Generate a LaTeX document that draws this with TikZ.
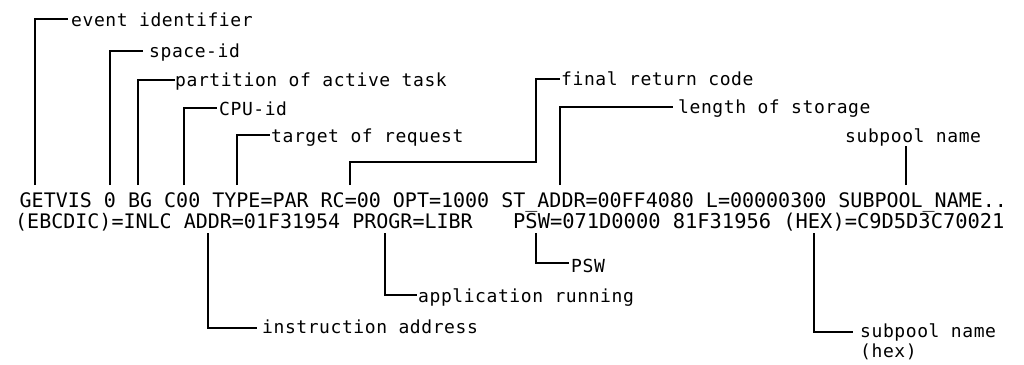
\documentclass[tikz,border=0pt]{standalone}
\usepackage{fontspec}
\newfontfamily\codefont{DejaVu Sans Mono}
\newfontfamily\lblfont[LetterSpace=3.2]{DejaVu Sans Mono}
\begin{document}
\begin{tikzpicture}[x=1pt,y=-1pt,
  code/.style={font=\codefont\fontsize{20}{24}\selectfont, inner sep=0pt, anchor=base west},
  codeb/.style={font=\codefont\fontsize{20.4}{24}\selectfont, inner sep=0pt, anchor=base west},
  lbl/.style={font=\lblfont\fontsize{18}{22}\selectfont, inner sep=0pt, anchor=base west},
  conn/.style={draw=black, line width=1.2pt}]
\fill[white] (0,0) rectangle (1024,364);
\useasboundingbox (0,0) rectangle (1024,364);

% record lines
\node[code] (l1) at (19.5,207) {GETVIS 0 BG C00 TYPE=PAR RC=00 OPT=1000 ST\_ADDR=00FF4080 L=00000300 SUBPOOL\_NAME..};
\node[code] (l2a) at (15,228) {(EBCDIC)=INLC ADDR=01F31954 PROGR=LIBR};
\node[codeb] (l2b) at (513,228) {PSW=071D0000 81F31956 (HEX)=C9D5D3C70021};

% attachment points
\coordinate (t1) at (35,185);
\coordinate (t2) at (110,185);
\coordinate (t3) at (138,185);
\coordinate (t4) at (184,185);
\coordinate (t5) at (237,185);
\coordinate (t6) at (350,185);
\coordinate (j6) at (536,162);
\coordinate (t7) at (560,185);
\coordinate (t8) at (906,185);
\coordinate (b1) at (208,233);
\coordinate (b2) at (385,233);
\coordinate (b3) at (536,233);
\coordinate (b4) at (814,233);

% top labels
\node[lbl] (evt) at (71,27) {event identifier};
\node[lbl] (sid) at (149,57) {space-id};
\node[lbl] (part) at (175,86) {partition of active task};
\node[lbl] (cpu) at (219,115) {CPU-id};
\node[lbl] (tgt) at (271,142) {target of request};
\node[lbl] (frc) at (561,85) {final return code};
\node[lbl] (len) at (678,113) {length of storage};
\node[lbl] (spn) at (845,142) {subpool name};

% bottom labels
\node[lbl] (psw) at (571,272) {PSW};
\node[lbl] (app) at (418,302) {application running};
\node[lbl] (ins) at (262,333) {instruction address};
\node[lbl] (sph) at (860,337) {subpool name};
\node[lbl] (sphx) at (860,357) {(hex)};

% connectors
\draw[conn] (t1) |- ([xshift=-3pt,yshift=8pt]evt.base west);
\draw[conn] (t2) |- ([xshift=-6pt,yshift=6pt]sid.base west);
\draw[conn] (t3) |- ([xshift=0pt,yshift=6pt]part.base west);
\draw[conn] (t4) |- ([xshift=-2pt,yshift=7pt]cpu.base west);
\draw[conn] (t5) |- ([xshift=-1pt,yshift=7pt]tgt.base west);
\draw[conn] (t6) |- (j6) |- ([xshift=-1pt,yshift=6pt]frc.base west);
\draw[conn] (t7) |- ([xshift=-5pt,yshift=6pt]len.base west);
\draw[conn] (t8) -- (t8 |- spn.south);

\draw[conn] (b1) |- ([xshift=-5pt,yshift=5pt]ins.base west);
\draw[conn] (b2) |- ([xshift=-1pt,yshift=7pt]app.base west);
\draw[conn] (b3) |- ([xshift=-2pt,yshift=9pt]psw.base west);
\draw[conn] (b4) |- ([xshift=-7pt,yshift=5pt]sph.base west);
\end{tikzpicture}
\end{document}
